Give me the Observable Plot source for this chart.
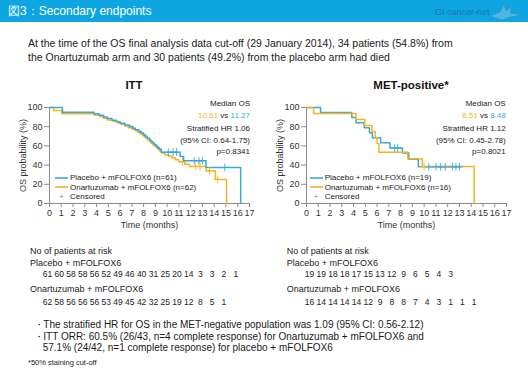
<!DOCTYPE html>
<html><head><meta charset="utf-8">
<script src="https://cdn.jsdelivr.net/npm/d3@7"></script>
<script src="https://cdn.jsdelivr.net/npm/@observablehq/plot@0.6"></script>
<style>
html,body{margin:0;padding:0;background:#fff;}
#root{position:relative;width:528px;height:391px;overflow:hidden;font-family:"Liberation Sans",Arial,Helvetica,sans-serif;color:#1a1a1a;background:#fff}
.abs{position:absolute;white-space:nowrap}
svg.chart{position:absolute}
</style></head><body><div id="root"></div>
<script>
// ---------- data ----------
const monthTicks = [0,1,2,3,4,5,6,7,8,9,10,11,12,13,14,15,16,17];
const probTicks = [0,20,40,60,80,100];

// ITT: Kaplan-Meier steps [time (months), OS probability (%)]
const ittPlacebo = [[0,100],[1.1,95.1],[3.8,93.4],[4.2,91.8],[4.6,90.1],[4.9,88.5],[5.3,86.8],[5.7,85.2],[6.0,83.5],[6.4,81.9],[6.8,80.2],[7.1,78.5],[7.3,76.8],[7.6,75.1],[7.8,73.4],[8.0,71.7],[8.15,70.0],[8.3,68.3],[8.5,66.6],[8.6,64.9],[8.75,63.2],[8.9,61.5],[9.05,59.8],[9.2,58.1],[9.35,56.4],[9.5,53.5],[11.1,49.0],[11.4,44.5],[13.3,37.5],[16.25,0]];
const ittOnart = [[0,100],[0.35,96.8],[1.05,93.5],[3.8,91.9],[4.3,90.3],[4.6,88.7],[4.9,87.1],[5.4,85.5],[5.8,83.9],[6.1,82.3],[6.4,80.6],[6.7,79.0],[7.0,77.4],[7.3,75.8],[7.5,74.1],[7.7,72.5],[7.9,70.9],[8.05,69.2],[8.2,67.6],[8.35,65.9],[8.5,64.3],[8.65,62.6],[8.8,61.0],[8.95,59.3],[9.1,57.6],[9.25,55.9],[9.4,54.2],[9.55,52.5],[9.8,50.8],[10.1,49.1],[10.4,47.3],[10.7,45.5],[11.0,43.4],[11.5,41.0],[11.9,38.6],[13.3,34.0],[14.1,25.0],[15.05,0]];
const ittPlaceboCens = [[10.1,53.5],[10.5,53.5],[10.8,53.5],[12.3,44.5],[12.7,44.5],[13.0,44.5],[14.9,37.5]];
const ittOnartCens = [[11.3,43.4],[12.4,38.6],[12.8,38.6],[13.6,34.0],[14.3,25.0]];

// MET-positive
const metPlacebo = [[0,100],[1.2,94.7],[3.85,89.5],[4.2,84.2],[4.9,78.9],[5.35,73.7],[5.6,68.4],[6.3,63.2],[7.1,57.9],[8.15,52.6],[8.7,46.2],[9.5,38.2],[13.1,38.2]];
const metOnart = [[0,100],[0.6,93.75],[4.2,87.5],[4.95,81.25],[5.55,75.0],[5.85,68.75],[6.0,62.5],[6.15,53.5],[8.6,46.5],[9.85,38.6],[14.25,0]];
const metPlaceboCens = [[7.5,57.9],[7.75,57.9],[10.4,38.2],[11.0,38.2],[11.4,38.2],[11.8,38.2],[12.4,38.2],[12.7,38.2],[13.0,38.2]];
const metOnartCens = [[10.0,38.6]];

// numbers at risk (months 0,1,2,...)
const ittRiskPlacebo = [61,60,58,58,56,52,49,46,40,31,25,20,14,3,3,2,1];
const ittRiskOnart = [62,58,56,56,56,53,49,45,42,32,25,19,12,8,5,1];
const metRiskPlacebo = [19,19,18,18,17,15,13,12,9,6,5,4,3];
const metRiskOnart = [16,14,14,14,14,12,9,8,8,7,4,3,1,1,1];

// text
const panelTitles = ["ITT","MET-positive*"];
const medianOnart = ["10.61","8.51"];
const medianPlacebo = ["11.27","8.48"];
const hrValues = ["1.06","1.12"];
const ciValues = ["0.64-1.75","0.45-2.78"];
const pValues = ["0.8341","0.8021"];
const nPlacebo = [61,19];
const nOnart = [62,16];
const headerTitle = "図3：Secondary endpoints";
const subtitleLines = ["At the time of the OS final analysis data cut-off (29 January 2014), 34 patients (54.8%) from","the Onartuzumab arm and 30 patients (49.2%) from the placebo arm had died"];
const bulletLines = ["The stratified HR for OS in the MET-negative population was 1.09 (95% CI: 0.56-2.12)","ITT ORR: 60.5% (26/43, n=4 complete response) for Onartuzumab + mFOLFOX6 and","57.1% (24/42, n=1 complete response) for placebo + mFOLFOX6"];
const footnote = "*50% staining cut-off";

// ---------- drawing ----------
const BLUE = "#3aa8dd", ORANGE = "#f6b320", AXIS = "#8c8c8c";
const FONT = '"Liberation Sans",Arial,Helvetica,sans-serif';
const root = document.getElementById("root");

function txt(html, o) {
  const d = document.createElement("div");
  d.className = "abs";
  d.innerHTML = html;
  const s = o.size || 9;
  d.style.fontSize = s + "px";
  d.style.lineHeight = (s * 1.2) + "px";
  d.style.top = (o.y - s * 0.6) + "px";
  if (o.left != null) d.style.left = o.left + "px";
  if (o.right != null) d.style.right = (528 - o.right) + "px";
  if (o.cx != null) { d.style.left = o.cx + "px"; d.style.transform = "translateX(-50%)"; }
  if (o.color) d.style.color = o.color;
  if (o.weight) d.style.fontWeight = o.weight;
  root.appendChild(d);
  return d;
}

// header
const hdr = document.createElement("div");
hdr.className = "abs";
Object.assign(hdr.style, {left:"0px", top:"0px", width:"528px", height:"22px", background:"#0ea6e1"});
root.appendChild(hdr);
txt(headerTitle, {left:8, y:11.5, size:12, color:"#fff"});
txt("GI cancer-net", {left:435, y:12.5, size:9, color:"#1d73ad"});
const logo = document.createElementNS("http://www.w3.org/2000/svg","svg");
logo.setAttribute("width","40"); logo.setAttribute("height","22");
Object.assign(logo.style, {position:"absolute", left:"488px", top:"0px"});
logo.innerHTML = '<path d="M2,16 L12,12 L16,4 L18,11 L24,6 L22,13 L34,15 L22,17 L14,20 Z" fill="#4fb6e2" stroke="#2d8fc4" stroke-width="0.6"/>';
root.appendChild(logo);

// subtitle
txt(subtitleLines[0], {left:28, y:43.5, size:10.5});
txt(subtitleLines[1], {left:28, y:57.5, size:10.5});

const panels = [
  {left:0, mL:49, mR:15, titleX:134, right:250, legX:55, riskX:30, dx:-2,
   placebo:ittPlacebo, onart:ittOnart, pc:ittPlaceboCens, oc:ittOnartCens, rp:ittRiskPlacebo, ro:ittRiskOnart, blueTop:true},
  {left:264, mL:42, mR:22, titleX:411, right:505.7, legX:309.7, riskX:286.7, dx:3,
   placebo:metPlacebo, onart:metOnart, pc:metPlaceboCens, oc:metOnartCens, rp:metRiskPlacebo, ro:metRiskOnart, blueTop:false}
];

panels.forEach((p, i) => {
  const blueLine = Plot.line(p.placebo, {x: d => d[0], y: d => d[1], curve: "step-after", stroke: BLUE, strokeWidth: 1.5});
  const orangeLine = Plot.line(p.onart, {x: d => d[0], y: d => d[1], curve: "step-after", stroke: ORANGE, strokeWidth: 1.5});
  const blueCens = Plot.dot(p.pc, {x: d => d[0], y: d => d[1], symbol: "plus", r: 2.6, stroke: BLUE, strokeWidth: 0.9});
  const orangeCens = Plot.dot(p.oc, {x: d => d[0], y: d => d[1], symbol: "plus", r: 2.6, stroke: ORANGE, strokeWidth: 0.9});
  const lines = p.blueTop ? [orangeLine, blueLine, orangeCens, blueCens] : [blueLine, orangeLine, blueCens, orangeCens];
  const chart = Plot.plot({
    width: 264, height: 160,
    marginTop: 27, marginBottom: 37, marginLeft: p.mL, marginRight: p.mR,
    style: {fontFamily: FONT, fontSize: "9px", color: "#222", background: "transparent", overflow: "visible"},
    x: {domain: [0, 17]},
    y: {domain: [0, 100]},
    marks: [
      Plot.axisY({ticks: probTicks, tickSize: 5, tickPadding: 2, stroke: AXIS, fill: "#333", label: "OS probability (%)", labelAnchor: "center", labelArrow: "none", labelOffset: 30}),
      Plot.axisX({ticks: monthTicks, tickSize: 4, tickPadding: 2, stroke: AXIS, fill: "#333", label: "Time (months)", labelAnchor: "center", labelArrow: "none", labelOffset: 24}),
      Plot.ruleX([0], {stroke: AXIS}),
      Plot.ruleY([0], {stroke: AXIS}),
      ...lines
    ]
  });
  chart.classList.add("chart");
  chart.style.left = p.left + "px";
  chart.style.top = "80px";
  root.appendChild(chart);

  // risk table numbers
  const rows = [
    ...p.rp.map((n, t) => ({t, arm: "P", n})),
    ...p.ro.map((n, t) => ({t, arm: "O", n}))
  ];
  const risk = Plot.plot({
    width: 264, height: 45,
    marginTop: 0, marginBottom: 0, marginLeft: p.mL, marginRight: p.mR,
    style: {fontFamily: FONT, fontSize: "8.5px", color: "#222", background: "transparent", overflow: "visible"},
    x: {domain: [0, 17], axis: null},
    y: {type: "point", domain: ["P", "O"], range: [9, 37], padding: 0, axis: null},
    marks: [Plot.text(rows, {x: "t", y: "arm", text: "n", dx: p.dx, fontSize: 8.5, fill: "#222"})]
  });
  risk.classList.add("chart");
  risk.style.left = p.left + "px";
  risk.style.top = "265px";
  root.appendChild(risk);

  // panel title
  txt(panelTitles[i], {cx: p.titleX, y: 86, size: 11.5, weight: "bold", color: "#111"});

  // annotations
  txt("Median OS", {right: p.right, y: 104, size: 8});
  txt(`<span style="color:${ORANGE}">${medianOnart[i]}</span> vs <span style="color:${BLUE}">${medianPlacebo[i]}</span>`, {right: p.right, y: 116, size: 8});
  txt(`Stratified HR ${hrValues[i]}`, {right: p.right, y: 128.5, size: 8});
  txt(`(95% CI: ${ciValues[i]})`, {right: p.right, y: 140.5, size: 8});
  txt(`p=${pValues[i]}`, {right: p.right, y: 152, size: 8});

  // legend
  const sw = (color, y) => {
    const s = document.createElementNS("http://www.w3.org/2000/svg", "svg");
    s.setAttribute("width", "14"); s.setAttribute("height", "4");
    Object.assign(s.style, {position: "absolute", left: p.legX + "px", top: (y - 2) + "px"});
    s.innerHTML = `<line x1="0" x2="13" y1="2" y2="2" stroke="${color}" stroke-width="1.6"/>`;
    root.appendChild(s);
  };
  sw(BLUE, 177.7); sw(ORANGE, 187.3);
  txt(`Placebo + mFOLFOX6 (n=${nPlacebo[i]})`, {left: p.legX + 15, y: 177.7, size: 8});
  txt(`Onartuzumab + mFOLFOX6 (n=${nOnart[i]})`, {left: p.legX + 15, y: 187.3, size: 8});
  txt("+", {left: p.legX + 4, y: 196.5, size: 8, color: "#888"});
  txt("Censored", {left: p.legX + 15, y: 196.7, size: 8});

  // risk labels
  txt("No of patients at risk", {left: p.riskX, y: 251.7, size: 9});
  txt("Placebo + mFOLFOX6", {left: p.riskX, y: 263, size: 9});
  txt("Onartuzumab + mFOLFOX6", {left: p.riskX, y: 289, size: 9});
});

// bullets
txt("・", {left: 34, y: 325, size: 10});
txt(bulletLines[0], {left: 43.3, y: 325, size: 10});
txt("・", {left: 34, y: 336.7, size: 10});
txt(bulletLines[1], {left: 43.3, y: 336.7, size: 10});
txt(bulletLines[2], {left: 42.7, y: 347.5, size: 10});
txt(footnote, {left: 28, y: 362, size: 7.5});
</script></body></html>
